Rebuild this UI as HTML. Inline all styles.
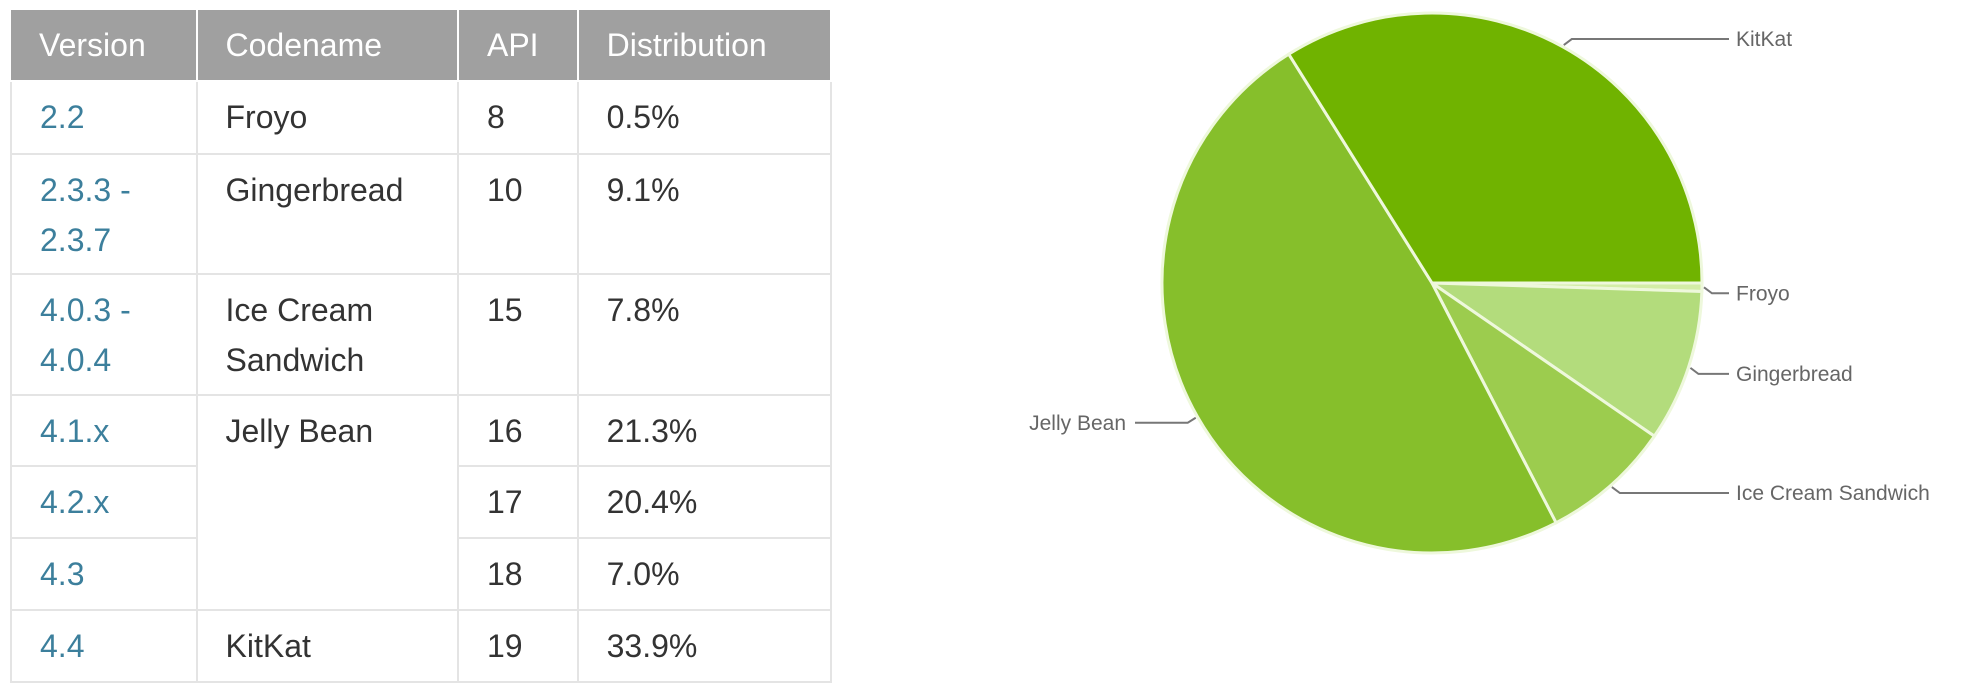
<!DOCTYPE html>
<html><head><meta charset="utf-8"><style>
body{margin:0;width:1981px;height:700px;background:#fff;overflow:hidden;position:relative;font-family:"Liberation Sans",sans-serif}
table{position:absolute;left:10px;top:10px;border-collapse:collapse;width:822px;font-size:32px}
th{background:#a0a0a0;color:#fff;font-weight:normal;text-align:left;height:70px;padding:0 0 0 28px;border:2px solid #fff;border-top:0}
th:first-child{border-left:0}
td{border:2px solid #e4e4e4;vertical-align:top;padding:10px 0 0 28px;color:#333;line-height:50px}
td.v{color:#3c7f9c}
</style></head><body>
<table>
<colgroup><col style="width:186px"><col style="width:262px"><col style="width:120px"><col style="width:254px"></colgroup>
<tr><th>Version</th><th>Codename</th><th>API</th><th>Distribution</th></tr>
<tr style="height:73px"><td class="v">2.2</td><td>Froyo</td><td>8</td><td>0.5%</td></tr>
<tr style="height:120px"><td class="v">2.3.3 -<br>2.3.7</td><td>Gingerbread</td><td>10</td><td>9.1%</td></tr>
<tr style="height:121px"><td class="v">4.0.3 -<br>4.0.4</td><td>Ice Cream<br>Sandwich</td><td>15</td><td>7.8%</td></tr>
<tr style="height:71px"><td class="v">4.1.x</td><td rowspan="3">Jelly Bean</td><td>16</td><td>21.3%</td></tr>
<tr style="height:72px"><td class="v">4.2.x</td><td>17</td><td>20.4%</td></tr>
<tr style="height:72px"><td class="v">4.3</td><td>18</td><td>7.0%</td></tr>
<tr style="height:72px"><td class="v">4.4</td><td>KitKat</td><td>19</td><td>33.9%</td></tr>
</table>
<svg id="pie" width="1981" height="700" style="position:absolute;left:0;top:0"></svg>
<script>
const categories=["Froyo","Gingerbread","Ice Cream Sandwich","Jelly Bean","KitKat"];
const values=[0.5,9.1,7.8,48.7,33.9];
const colors=["#d3eda6","#b3dc7c","#9ccc4e","#86bf2b","#70b300"];
const svg=document.getElementById('pie');const NS="http://www.w3.org/2000/svg";
const cx=1432,cy=283,r=270;
const total=values.reduce((a,b)=>a+b,0);
function pt(a,rr){return [cx+rr*Math.cos(a),cy+rr*Math.sin(a)];}
let acc=0;
values.forEach((v,i)=>{
 const a0=acc/total*2*Math.PI,a1=(acc+v)/total*2*Math.PI;acc+=v;
 const p0=pt(a0,r),p1=pt(a1,r);const large=(a1-a0)>Math.PI?1:0;
 const p=document.createElementNS(NS,'path');
 p.setAttribute('d',`M${cx},${cy}L${p0[0]},${p0[1]}A${r},${r} 0 ${large} 1 ${p1[0]},${p1[1]}Z`);
 p.setAttribute('fill',colors[i]);p.setAttribute('stroke','#eef8dc');p.setAttribute('stroke-width','3');
 
 
 svg.appendChild(p);
 const m=(a0+a1)/2;const q=pt(m,r+2);
 const right=Math.cos(m)>=0;
 const ly=q[1]+(right?Math.sign(Math.sin(m))*6:5);
 const x2=right?1729:1135;
 const l=document.createElementNS(NS,'polyline');
 const bx=right?q[0]+8:q[0]-8;
 l.setAttribute('points',`${q[0]},${q[1]} ${bx},${ly} ${x2},${ly}`);
 l.setAttribute('fill','none');l.setAttribute('stroke','#777');l.setAttribute('stroke-width','2');
 
 
 svg.appendChild(l);
 const t=document.createElementNS(NS,'text');
 t.setAttribute('x',right?1736:1126);t.setAttribute('y',ly+7);
 t.setAttribute('text-anchor',right?'start':'end');
 t.setAttribute('font-size','21');t.setAttribute('fill','#666');
 t.setAttribute('font-family','Liberation Sans, sans-serif');
 t.textContent=categories[i];
 
 
 svg.appendChild(t);
});
</script>
</body></html>
